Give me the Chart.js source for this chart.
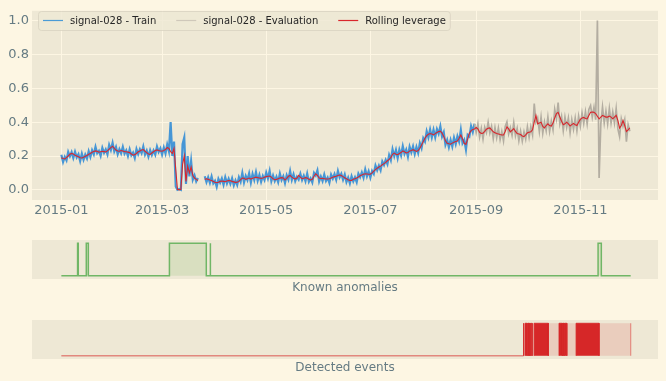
<!DOCTYPE html>
<html>
<head>
<meta charset="utf-8">
<script src="https://cdn.jsdelivr.net/npm/chart.js@4/dist/chart.umd.min.js"></script>
<style>
  html, body { margin: 0; padding: 0; background: #fdf6e3; }
  body { width: 666px; height: 381px; position: relative; overflow: hidden; }
  canvas { position: absolute; left: 0; }
</style>
</head>
<body>
<canvas id="mainChart" width="666" height="225" style="top:0px"></canvas>
<canvas id="knownChart" width="666" height="68" style="top:232px"></canvas>
<canvas id="detectedChart" width="666" height="68" style="top:312px"></canvas>
<script>
// days counted from 2015-01-01
const monthTicks = [0, 59, 120, 181, 243, 304];
const monthLabels = ['2015-01', '2015-03', '2015-05', '2015-07', '2015-09', '2015-11'];
const yTicks = [0, 0.2, 0.4, 0.6, 0.8, 1.0];
const legendLabels = ['signal-028 - Train', 'signal-028 - Evaluation', 'Rolling leverage'];

// signal-028, train part (days 0..242), null = missing days
const trainValues = [
  0.208, 0.165, 0.195, 0.174, 0.224, 0.198, 0.223, 0.188, 0.225, 0.192,
  0.21, 0.17, 0.214, 0.178, 0.208, 0.185, 0.228, 0.195, 0.234, 0.21,
  0.254, 0.216, 0.23, 0.201, 0.248, 0.218, 0.239, 0.21, 0.266, 0.236,
  0.278, 0.227, 0.253, 0.21, 0.24, 0.216, 0.254, 0.214, 0.233, 0.199,
  0.24, 0.204, 0.22, 0.188, 0.241, 0.211, 0.24, 0.217, 0.256, 0.208,
  0.232, 0.196, 0.234, 0.206, 0.233, 0.208, 0.256, 0.224, 0.245, 0.208,
  0.25, 0.215, 0.268, 0.228, 0.40, 0.2, 0.285, 0.02, 0.0, 0.005, 0.0,
  0.27, 0.31, 0.035, 0.2, 0.08, 0.17, 0.06, 0.085, 0.05, 0.07,
  null, null, null,
  0.08, 0.045, 0.074, 0.042, 0.079, 0.038, 0.053, 0.018, 0.065, 0.042, 0.067, 0.03, 0.074, 0.038, 0.065, 0.036,
  0.068, 0.027, 0.056, 0.029, 0.074, 0.048, 0.1, 0.044, 0.082, 0.058, 0.098, 0.044, 0.094, 0.058, 0.105, 0.054,
  0.088, 0.048, 0.082, 0.058, 0.102, 0.068, 0.112, 0.051, 0.085, 0.052, 0.077, 0.046, 0.096, 0.058, 0.08, 0.04,
  0.086, 0.06, 0.111, 0.059, 0.092, 0.052, 0.078, 0.061, 0.095, 0.058, 0.083, 0.052, 0.096, 0.048, 0.068, 0.044,
  0.1, 0.085, 0.115, 0.05, 0.079, 0.052, 0.09, 0.052, 0.072, 0.042, 0.09, 0.067, 0.093, 0.06, 0.111, 0.074,
  0.095, 0.06, 0.09, 0.046, 0.072, 0.039, 0.08, 0.05, 0.074, 0.046, 0.096, 0.075, 0.103, 0.072, 0.121, 0.08,
  0.11, 0.072, 0.112, 0.094, 0.144, 0.116, 0.143, 0.116, 0.168, 0.147, 0.177, 0.152, 0.206, 0.176, 0.24, 0.199,
  0.236, 0.188, 0.237, 0.204, 0.258, 0.213, 0.238, 0.196, 0.255, 0.222, 0.257, 0.212, 0.253, 0.218, 0.276, 0.247,
  0.305, 0.285, 0.346, 0.31, 0.357, 0.31, 0.355, 0.31, 0.359, 0.332, 0.375, 0.315, 0.341, 0.266, 0.295, 0.252,
  0.294, 0.256, 0.308, 0.27, 0.317, 0.285, 0.354, 0.276, 0.295, 0.238, 0.325, 0.315, 0.376, 0.342, 0.39
];

// signal-028, evaluation part (days 242..333)
const evalStart = 242;
const evalValues = [
  0.39,
  0.338, 0.39, 0.312, 0.363, 0.3, 0.37, 0.338, 0.399, 0.336, 0.375, 0.303, 0.368, 0.308, 0.365, 0.297, 0.345,
  0.289, 0.375, 0.402, 0.33, 0.368, 0.322, 0.397, 0.32, 0.363, 0.29, 0.347, 0.288, 0.344, 0.3, 0.372, 0.31,
  0.373, 0.325, 0.51, 0.4, 0.425, 0.345, 0.43, 0.335, 0.401, 0.35, 0.43, 0.345, 0.407, 0.355, 0.475, 0.42,
  0.515, 0.39, 0.435, 0.35, 0.43, 0.37, 0.425, 0.337, 0.415, 0.358, 0.425, 0.35, 0.435, 0.376, 0.455, 0.393,
  0.462, 0.39, 0.475, 0.498, 0.43, 0.488, 0.415, 1.0, 0.07, 0.39, 0.49, 0.395, 0.465, 0.39, 0.481, 0.395,
  0.46, 0.395, 0.48, 0.36, 0.315, 0.42, 0.375, 0.415, 0.285, 0.385, 0.346
];

// rolling leverage (days 0..333)
const rollingValues = [
  0.19, 0.185, 0.183, 0.19, 0.2, 0.21, 0.215, 0.212, 0.205, 0.2,
  0.195, 0.19, 0.188, 0.192, 0.198, 0.203, 0.21, 0.215, 0.222, 0.226,
  0.23, 0.228, 0.222, 0.225, 0.228, 0.226, 0.224, 0.23, 0.24, 0.25,
  0.258, 0.245, 0.235, 0.23, 0.228, 0.232, 0.23, 0.226, 0.225, 0.223,
  0.22, 0.212, 0.205, 0.208, 0.215, 0.225, 0.23, 0.235, 0.238, 0.228,
  0.22, 0.212, 0.21, 0.218, 0.225, 0.232, 0.236, 0.232, 0.23, 0.228,
  0.232, 0.238, 0.25, 0.245, 0.225, 0.215, 0.245, 0.12, 0.003, 0.0,
  0.003, 0.15, 0.2, 0.05, 0.14, 0.1, 0.135, 0.085, 0.07, 0.062,
  0.055, null, null, null, 0.062, 0.065, 0.062, 0.058, 0.055, 0.05,
  0.045, 0.042, 0.045, 0.05, 0.052, 0.05, 0.048, 0.052, 0.055, 0.054,
  0.05, 0.047, 0.044, 0.045, 0.05, 0.06, 0.07, 0.068, 0.062, 0.066,
  0.07, 0.064, 0.068, 0.072, 0.075, 0.072, 0.07, 0.068, 0.07, 0.074,
  0.078, 0.08, 0.082, 0.075, 0.065, 0.06, 0.062, 0.066, 0.07, 0.072,
  0.07, 0.058, 0.068, 0.08, 0.085, 0.075, 0.068, 0.064, 0.07, 0.085,
  0.075, 0.066, 0.068, 0.072, 0.07, 0.062, 0.058, 0.062, 0.08, 0.095,
  0.085, 0.07, 0.067, 0.068, 0.066, 0.064, 0.064, 0.066, 0.07, 0.075,
  0.078, 0.08, 0.085, 0.088, 0.085, 0.078, 0.072, 0.066, 0.06, 0.055,
  0.056, 0.062, 0.066, 0.07, 0.076, 0.083, 0.088, 0.092, 0.095, 0.094,
  0.092, 0.092, 0.1, 0.11, 0.12, 0.128, 0.135, 0.14, 0.148, 0.155,
  0.162, 0.172, 0.18, 0.19, 0.21, 0.217, 0.21, 0.208, 0.215, 0.22,
  0.23, 0.225, 0.218, 0.22, 0.23, 0.232, 0.237, 0.232, 0.227, 0.232,
  0.246, 0.265, 0.285, 0.305, 0.32, 0.328, 0.333, 0.33, 0.325, 0.332,
  0.339, 0.344, 0.347, 0.335, 0.315, 0.29, 0.275, 0.272, 0.27, 0.276,
  0.282, 0.286, 0.289, 0.305, 0.324, 0.3, 0.275, 0.268, 0.3, 0.335,
  0.35, 0.356, 0.36, 0.368, 0.36, 0.34, 0.333, 0.335, 0.345, 0.358,
  0.364, 0.366, 0.355, 0.343, 0.338, 0.333, 0.33, 0.327, 0.325, 0.324,
  0.345, 0.372, 0.36, 0.343, 0.352, 0.362, 0.345, 0.333, 0.33, 0.327,
  0.318, 0.314, 0.325, 0.337, 0.34, 0.343, 0.355, 0.4, 0.44, 0.39,
  0.395, 0.4, 0.375, 0.366, 0.38, 0.39, 0.38, 0.377, 0.395, 0.425,
  0.45, 0.458, 0.43, 0.405, 0.385, 0.39, 0.4, 0.39, 0.377, 0.385,
  0.393, 0.385, 0.38, 0.4, 0.416, 0.425, 0.428, 0.422, 0.42, 0.44,
  0.458, 0.46, 0.458, 0.45, 0.435, 0.42, 0.43, 0.44, 0.435, 0.43,
  0.43, 0.436, 0.43, 0.42, 0.43, 0.44, 0.41, 0.365, 0.38, 0.41,
  0.38, 0.345, 0.355, 0.366
];

// anomaly windows [start day, end day]
const knownAnomalies = [[9.5, 9.9], [14.6, 15.8], [63.3, 84.9], [87.1, 87.4], [314.4, 316.3]];
const detectedSpan = [270.5, 333.5];
const detectedBlocks = [
  [270.5, 270.9], [271.6, 272.9], [273.3, 274.0], [274.3, 274.7], [275.3, 275.8],
  [276.9, 285.3], [291.5, 293.5], [293.8, 294.6], [294.9, 296.1], [301.5, 315.0]
];
const lastDay = 333.5;

const xMin = -17.2, xMax = 349.5;
const textColor = '#657b83';
Chart.defaults.font.family = "'DejaVu Sans', sans-serif";

const trainPts = trainValues.map((v, i) => ({ x: i, y: v }));
const evalPts = evalValues.map((v, i) => ({ x: evalStart + i, y: v }));
const rollPts = rollingValues.map((v, i) => ({ x: i, y: v }));

function stepPoints(intervals, from, to) {
    const pts = [{ x: from, y: 0 }];
    intervals.forEach(([s, e]) => {
        pts.push({ x: s, y: 0 }, { x: s, y: 1 }, { x: e, y: 1 }, { x: e, y: 0 });
    });
    pts.push({ x: to, y: 0 });
    return pts;
}

// fundo da área do gráfico
const plotBg = {
    id: 'plotBg',
    beforeDraw(chart) {
        const { ctx, chartArea: a } = chart;
        ctx.save();
        ctx.fillStyle = '#eee8d5';
        ctx.fillRect(a.left, a.top, a.width, a.height);
        ctx.restore();
    }
};

// legenda dentro do gráfico, canto superior esquerdo
const legendBox = {
    id: 'legendBox',
    afterDraw(chart) {
        const ctx = chart.ctx;
        const colors = ['#4a9bd6', '#cfc8ba', '#d9262b'];
        ctx.save();
        ctx.font = "10px 'DejaVu Sans'";
        let x = 43;
        const items = legendLabels.map((label, i) => {
            const item = { label, color: colors[i], x };
            x += 20 + 7 + ctx.measureText(label).width + 20;
            return item;
        });
        const boxRight = x - 20 + 4;
        ctx.beginPath();
        ctx.roundRect(38.5, 11.5, boxRight - 38, 19, 3);
        ctx.fillStyle = 'rgba(238,232,213,0.8)';
        ctx.fill();
        ctx.strokeStyle = 'rgba(214,208,190,0.7)';
        ctx.lineWidth = 1;
        ctx.stroke();
        items.forEach(it => {
            ctx.beginPath();
            ctx.moveTo(it.x, 20.5);
            ctx.lineTo(it.x + 20, 20.5);
            ctx.strokeStyle = it.color;
            ctx.lineWidth = 1.2;
            ctx.stroke();
            ctx.fillStyle = '#262626';
            ctx.textBaseline = 'middle';
            ctx.fillText(it.label, it.x + 27, 21);
        });
        ctx.restore();
    }
};

new Chart(document.getElementById('mainChart'), {
    type: 'line',
    data: {
        datasets: [
            { label: 'Rolling leverage', data: rollPts, borderColor: '#d9262b', borderWidth: 1.1, pointRadius: 0, spanGaps: false },
            { label: 'signal-028 - Evaluation', data: evalPts, borderColor: '#b3ada1', borderWidth: 1.7, pointRadius: 0 },
            { label: 'signal-028 - Train', data: trainPts, borderColor: '#4696d6', borderWidth: 2.2, pointRadius: 0, spanGaps: false }
        ]
    },
    options: {
        responsive: false,
        animation: false,
        devicePixelRatio: 1,
        layout: { padding: { top: 6, right: 8, left: 0, bottom: 0 } },
        plugins: { legend: { display: false }, tooltip: { enabled: false } },
        scales: {
            x: {
                type: 'linear',
                min: xMin,
                max: xMax,
                afterBuildTicks: s => { s.ticks = monthTicks.map(v => ({ value: v })); },
                afterFit: s => { s.height = 25; },
                ticks: {
                    callback: (v, i) => monthLabels[i],
                    color: textColor,
                    font: { size: 13 },
                    padding: 3,
                    maxRotation: 0,
                    autoSkip: false
                },
                grid: { color: '#fdf6e3', lineWidth: 1, drawTicks: false },
                border: { display: false }
            },
            y: {
                min: -0.06,
                max: 1.058,
                afterBuildTicks: s => { s.ticks = yTicks.map(v => ({ value: v })); },
                afterFit: s => { s.width = 32; },
                ticks: {
                    callback: v => v.toFixed(1),
                    color: textColor,
                    font: { size: 13 },
                    padding: 3
                },
                grid: { color: '#fdf6e3', lineWidth: 1, drawTicks: false },
                border: { display: false }
            }
        }
    },
    plugins: [plotBg, legendBox]
});

function stripOptions(title) {
    return {
        responsive: false,
        animation: false,
        devicePixelRatio: 1,
        layout: { padding: { top: 8, right: 8, left: 32, bottom: 0 } },
        plugins: { legend: { display: false }, tooltip: { enabled: false } },
        scales: {
            x: {
                type: 'linear',
                min: xMin,
                max: xMax,
                afterFit: s => { s.height = 21; },
                ticks: { display: false },
                grid: { display: false },
                border: { display: false },
                title: { display: true, text: title, color: textColor, font: { size: 12 }, padding: { top: 0, bottom: 5 } }
            },
            y: { display: false, min: -0.1, max: 1.1 }
        }
    };
}

new Chart(document.getElementById('knownChart'), {
    type: 'line',
    data: {
        datasets: [{
            data: stepPoints(knownAnomalies, 0, lastDay),
            borderColor: 'rgb(112,182,102)',
            borderWidth: 1.5,
            backgroundColor: 'rgba(120,185,100,0.18)',
            fill: 'origin',
            pointRadius: 0
        }]
    },
    options: stripOptions('Known anomalies'),
    plugins: [plotBg]
});

const red = '#d62728';
new Chart(document.getElementById('detectedChart'), {
    type: 'line',
    data: {
        datasets: [
            {
                data: stepPoints(detectedBlocks, detectedBlocks[0][0], detectedBlocks[detectedBlocks.length - 1][1]),
                borderColor: red,
                borderWidth: 0.8,
                backgroundColor: red,
                fill: 'origin',
                pointRadius: 0,
                segment: {
                    borderColor: c => (c.p0.parsed.y === 0 && c.p1.parsed.y === 0) ? 'rgba(0,0,0,0)' : red
                }
            },
            {
                data: stepPoints([detectedSpan], detectedSpan[0], detectedSpan[1]),
                borderColor: 'rgba(0,0,0,0)',
                borderWidth: 1.2,
                backgroundColor: 'rgba(214,39,40,0.14)',
                fill: 'origin',
                pointRadius: 0,
                segment: {
                    borderColor: c => (c.p0.parsed.x === detectedSpan[1] && c.p1.parsed.x === detectedSpan[1]) ? 'rgba(214,39,40,0.45)' : 'rgba(0,0,0,0)'
                }
            },
            {
                data: [{ x: 0, y: 0 }, { x: detectedSpan[0], y: 0 }],
                borderColor: 'rgba(214,39,40,0.5)',
                borderWidth: 1.5,
                pointRadius: 0
            }
        ]
    },
    options: stripOptions('Detected events'),
    plugins: [plotBg]
});
</script>
</body>
</html>
